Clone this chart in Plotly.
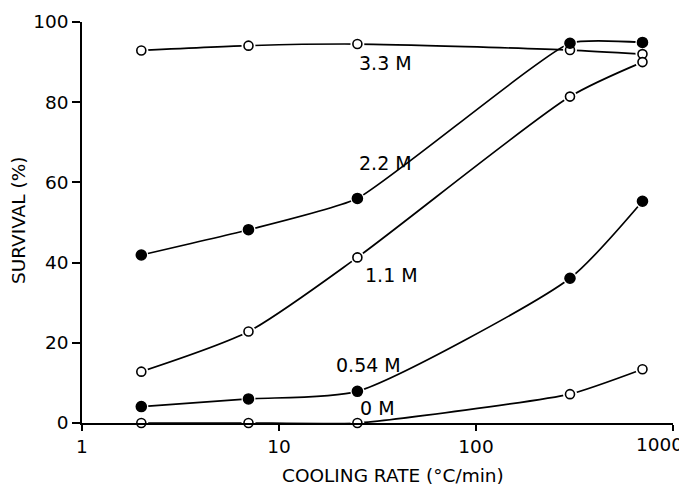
import math
import plotly.graph_objects as go

# Data
cooling_rate = [2, 7, 25, 300, 700]
s_33 = [92.9, 94.1, 94.5, 93.0, 92.0]
s_22 = [41.9, 48.2, 56.0, 94.7, 94.9]
s_11 = [12.8, 22.8, 41.3, 81.4, 90.0]
s_054 = [4.1, 6.0, 7.9, 36.1, 55.3]
s_0 = [0.0, 0.0, 0.0, 7.2, 13.4]

series_names = ["3.3 M", "2.2 M", "1.1 M", "0.54 M", "0 M"]
series_vals = [s_33, s_22, s_11, s_054, s_0]
series_filled = [False, True, False, True, False]
series_smooth = [0.6, 0.45, 0.7, 0.6, 0.5]

x_ticks = [1, 10, 100, 1000]
x_tick_text = ["1", "10", "100", "1000"]
y_ticks = [0, 20, 40, 60, 80, 100]

FONT = "DejaVu Sans"
fig = go.Figure()

# lines
for name, vals, sm in zip(series_names, series_vals, series_smooth):
    fig.add_trace(go.Scatter(
        x=cooling_rate, y=vals, mode="lines",
        line=dict(color="black", width=1.7, shape="spline", smoothing=sm),
        showlegend=False, hoverinfo="skip", cliponaxis=True))

# white halos (gap between line and marker)
for name, vals in zip(series_names, series_vals):
    fig.add_trace(go.Scatter(
        x=cooling_rate, y=vals, mode="markers",
        marker=dict(size=14, color="white", line=dict(width=0)),
        showlegend=False, hoverinfo="skip", cliponaxis=False))

# markers
for name, vals, filled in zip(series_names, series_vals, series_filled):
    fig.add_trace(go.Scatter(
        x=cooling_rate, y=vals, mode="markers", name=name,
        marker=dict(size=10 if filled else 9,
                    color="black" if filled else "white",
                    line=dict(color="black", width=1.6)),
        showlegend=False, cliponaxis=False))

# series labels
label_pos = {
    "3.3 M": (1.398, 89.9),
    "2.2 M": (1.398, 64.8),
    "1.1 M": (1.427, 36.9),
    "0.54 M": (1.277, 14.5),
    "0 M": (1.403, 3.8),
}
for name in series_names:
    lx, ly = label_pos[name]
    fig.add_annotation(x=lx, y=ly, xref="x", yref="y", text=name,
                       showarrow=False, xanchor="left", yanchor="middle",
                       font=dict(family=FONT, size=19, color="black"))

# last x tick label sits slightly left of its tick (as in the reference)
fig.add_annotation(x=math.log10(x_ticks[-1]), y=0, xref="x", yref="paper",
                   text=x_tick_text[-1], showarrow=False,
                   xanchor="center", yanchor="middle", xshift=-14, yshift=-21,
                   font=dict(family=FONT, size=18.5, color="black"))

# axis titles
fig.add_annotation(x=0.526, y=0, xref="paper", yref="paper",
                   text="COOLING RATE (°C/min)", showarrow=False,
                   xanchor="center", yanchor="middle", yshift=-52,
                   font=dict(family=FONT, size=18.5, color="black"))
fig.add_annotation(x=0, y=0.506, xref="paper", yref="paper",
                   text="SURVIVAL (%)", showarrow=False, textangle=-90,
                   xanchor="center", yanchor="middle", xshift=-64,
                   font=dict(family=FONT, size=18.5, color="black"))

fig.update_xaxes(type="log", range=[0, 3], tickvals=x_ticks,
                 ticktext=x_tick_text[:-1] + [""],
                 showline=True, linecolor="black", linewidth=1.7,
                 ticks="outside", ticklen=6, tickwidth=1.7, tickcolor="black",
                 showgrid=False, zeroline=False, automargin=False,
                 tickfont=dict(family=FONT, size=18.5, color="black"))
fig.update_yaxes(range=[0, 100], tickvals=y_ticks,
                 showline=True, linecolor="black", linewidth=1.7,
                 ticks="outside", ticklen=8, tickwidth=1.7, tickcolor="black",
                 showgrid=False, zeroline=False, automargin=False,
                 tickfont=dict(family=FONT, size=18.5, color="black"))

# page body has an 8px default margin; compensate so the plot area lands
# where it is in the reference
fig.update_layout(width=687, height=485,
                  margin=dict(l=73.5, r=22, t=13.7, b=69.7),
                  paper_bgcolor="white", plot_bgcolor="white",
                  font=dict(family=FONT, color="black"))

fig.write_html("out.html")
